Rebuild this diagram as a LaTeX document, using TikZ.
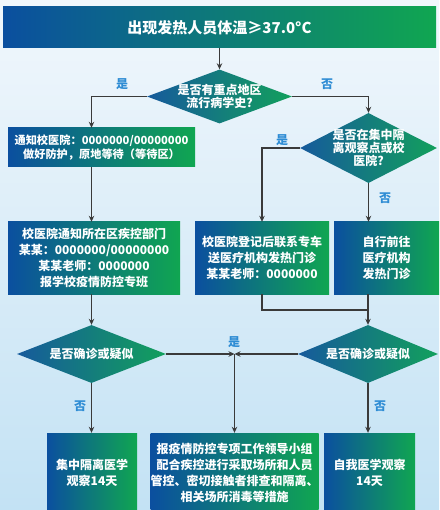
\documentclass[tikz,border=0pt]{standalone}
\usepackage{fontspec}
\setmainfont{Noto Sans CJK SC}
\usetikzlibrary{positioning,arrows.meta,shapes.geometric}
\definecolor{boxblue}{HTML}{0B4F9F}
\definecolor{boxgreen}{HTML}{10A651}
\definecolor{diablue}{HTML}{165A9C}
\definecolor{diagreen}{HTML}{12A05C}
\definecolor{linegray}{HTML}{3A3A3A}
\definecolor{yesno}{HTML}{2E8CD4}
\definecolor{bgtop}{HTML}{F1F7FC}
\definecolor{bgbot}{HTML}{C3E2F4}

\begin{document}
\begin{tikzpicture}[x=1pt,y=-1pt,font=\fontsize{12}{16}\selectfont\bfseries,
  box/.style={rectangle,left color=boxblue,right color=boxgreen,text=white,align=center,inner sep=0pt},
  dia/.style={diamond,left color=diablue,right color=diagreen,inner sep=0pt},
  diatext/.style={text=white,align=center,font=\fontsize{12}{13}\selectfont\bfseries},
  yn/.style={text=yesno},
  link/.style={draw=linegray,line width=1.3pt},
  arr/.style={link,-{Stealth[length=6pt,width=5.5pt]}}]

\useasboundingbox (0,0) rectangle (439,510);
\fill[top color=bgtop,bottom color=bgbot] (0,0) rectangle (439,510);

% top banner and first question
\node[box,minimum width=433pt,minimum height=41pt,font=\fontsize{15}{18}\selectfont\bfseries] (title) at (219.5,27.5) {出现发热人员体温≥37.0°C};
\node[dia,minimum width=145pt,minimum height=54pt,label={[diatext]center:{是否有重点地区\\流行病学史?}}] (d1) at (219.5,96.5) {};

% second row
\node[box,minimum width=187pt,minimum height=39pt,font=\fontsize{11.2}{13.5}\selectfont\bfseries] (b1) at (101.5,147.5) {通知校医院：0000000/00000000\\做好防护，原地等待（等待区）};
\node[dia,minimum width=137pt,minimum height=70pt,label={[diatext]center:{是否在集中隔\\离观察点或校\\医院?}}] (d2) at (368.5,148) {};

% third row
\node[box,minimum width=172pt,minimum height=72pt] (b2) at (94,258) {校医院通知所在区疾控部门\\某某：0000000/00000000\\某某老师：0000000\\报学校疫情防控专班};
\node[box,minimum width=134pt,minimum height=72pt] (b3) at (262,258) {校医院登记后联系专车\\送医疗机构发热门诊\\某某老师：0000000};
\node[box,minimum width=105pt,minimum height=72pt] (b4) at (386.5,258) {自行前往\\医疗机构\\发热门诊};

% confirm questions
\node[dia,minimum width=149pt,minimum height=58pt,label={[diatext]center:是否确诊或疑似}] (d3) at (91.5,354) {};
\node[dia,minimum width=140pt,minimum height=58pt,label={[diatext]center:是否确诊或疑似}] (d4) at (368,354) {};

% outcomes
\node[box,minimum width=90pt,minimum height=80pt] (b5) at (92,473) {集中隔离医学\\观察14天};
\node[box,minimum width=167pt,minimum height=80pt] (b6) at (234.5,473) {报疫情防控专项工作领导小组\\配合疾控进行采取场所和人员\\管控、密切接触者排查和隔离、\\相关场所消毒等措施};
\node[box,minimum width=91pt,minimum height=80pt] (b7) at (369.5,473) {自我医学观察\\14天};

\coordinate (join) at (368,310);
\coordinate (mid) at (d3.east -| b6.north);

% connectors
\draw[arr] (title.south) -- (d1.north);
\draw[arr] (d1.west) -| (d3.north |- b1.north);
\draw[arr] (d1.east) -| (d2.north);
\draw[arr] (d3.north |- b1.south) -- (d3.north |- b2.north);
\draw[arr] (d2.west) -| (b3.north);
\draw[arr] (d2.south) -- (d2.south |- b4.north);
\draw[arr] (d3.north |- b2.south) -- (d3.north);
\draw[link] (b3.south) |- (join);
\draw[arr] (d4.north |- b4.south) -- (d4.north);
\draw[arr] (d3.east) -- (mid);
\draw[arr] (d4.west) -- (mid);
\draw[arr] (mid) -- (b6.north);
\draw[arr] (d3.south) -- (d3.south |- b5.north);
\draw[arr] (d4.south) -- (d4.south |- b7.north);

% yes / no labels
\node[yn] (y1) at (122,84) {是};
\node[yn] (n1) at (327,84) {否};
\node[yn] (y2) at (282,140) {是};
\node[yn] (n2) at (385,198) {否};
\node[yn] (y3) at (234,342) {是};
\node[yn] (n3) at (80,406) {否};
\node[yn] (n4) at (380,406) {否};

\end{tikzpicture}
\end{document}
